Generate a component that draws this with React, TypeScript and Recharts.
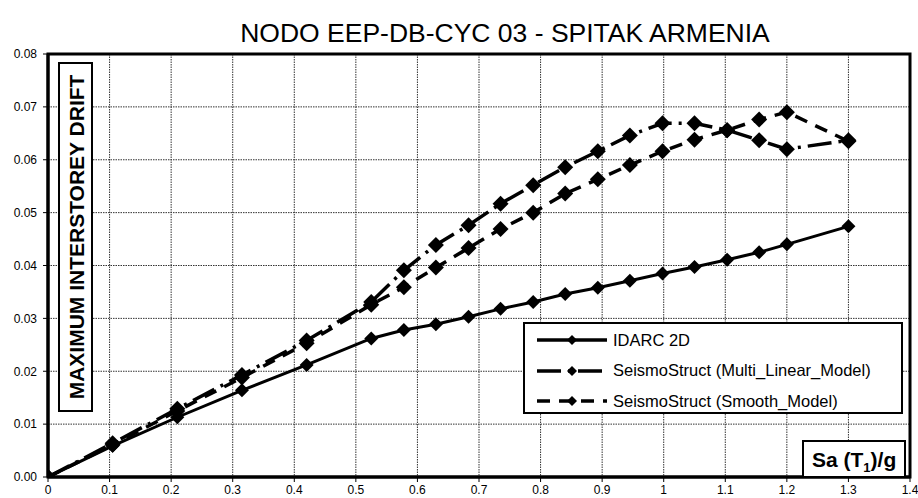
import React from "react";
import {
  LineChart, Line, XAxis, YAxis, CartesianGrid, ReferenceArea, Legend, Label,
} from "recharts";

// Sa(T1)/g steps shared by every series
const sa = [0, 0.105, 0.21, 0.315, 0.42, 0.525, 0.578, 0.63, 0.683, 0.735, 0.788, 0.84, 0.893, 0.945, 0.998, 1.05, 1.103, 1.155, 1.2, 1.3];
const idarc = [0, 0.0059, 0.0113, 0.0164, 0.0212, 0.0262, 0.0278, 0.0289, 0.0303, 0.0318, 0.0331, 0.0346, 0.0358, 0.0371, 0.0385, 0.0397, 0.0411, 0.0425, 0.044, 0.0474];
const multiLinear = [0, 0.0064, 0.0129, 0.0193, 0.0258, 0.0331, 0.0391, 0.0439, 0.0476, 0.0517, 0.0552, 0.0586, 0.0616, 0.0646, 0.0669, 0.0669, 0.0656, 0.0637, 0.062, 0.0637];
const smooth = [0, 0.0061, 0.0125, 0.0188, 0.0253, 0.0326, 0.0359, 0.0396, 0.0433, 0.0469, 0.05, 0.0536, 0.0563, 0.059, 0.0616, 0.0638, 0.0656, 0.0676, 0.069, 0.0635];

const xTicks = [0, 0.1, 0.2, 0.3, 0.4, 0.5, 0.6, 0.7, 0.8, 0.9, 1, 1.1, 1.2, 1.3, 1.4];
const yTicks = [0, 0.01, 0.02, 0.03, 0.04, 0.05, 0.06, 0.07, 0.08];

const seriesNames = ["IDARC 2D", "SeismoStruct (Multi_Linear_Model)", "SeismoStruct (Smooth_Model)"];

const title = "NODO EEP-DB-CYC 03 - SPITAK ARMENIA";
const yTitle = "MAXIMUM INTERSTOREY DRIFT";

const rows = sa.map((x, i) => ({ x, idarc: idarc[i], multi: multiLinear[i], smooth: smooth[i] }));

const FONT = "'Liberation Sans', Arial, sans-serif";
const DASH_MULTI = "24 7 3 7";
const DASH_SMOOTH = "13 9";
const dashes = [undefined, DASH_MULTI, DASH_SMOOTH];

function diamond(r: number) {
  // eslint-disable-next-line @typescript-eslint/no-explicit-any
  return (p: any) => {
    const { cx, cy, index } = p;
    if (cx == null || cy == null) return <g key={index} />;
    return (
      <path key={index} fill="#000"
        d={`M${cx},${cy - r}L${cx + r},${cy}L${cx},${cy + r}L${cx - r},${cy}Z`} />
    );
  };
}

// eslint-disable-next-line @typescript-eslint/no-explicit-any
function YTitleBox(props: any) {
  const vb = props.viewBox;
  const x = vb.x + vb.width + 11;
  const y = vb.y + 9;
  const w = 33, h = 348;
  return (
    <g>
      <rect x={x} y={y} width={w} height={h} fill="#fff" stroke="#000" strokeWidth={2} />
      <text x={0} y={0} transform={`translate(${x + w / 2 + 1},${y + h / 2}) rotate(-90)`}
        textAnchor="middle" dominantBaseline="central"
        fontFamily={FONT} fontWeight="bold" fontSize={21} fill="#000">
        {yTitle}
      </text>
    </g>
  );
}

// eslint-disable-next-line @typescript-eslint/no-explicit-any
function XTitleBox(props: any) {
  const vb = props.viewBox;
  const w = 102, h = 36;
  const x = vb.x + vb.width - w - 5;
  const y = vb.y - h;
  return (
    <g>
      <rect x={x} y={y} width={w} height={h} fill="#fff" stroke="#000" strokeWidth={2} />
      <text x={x + 9} y={y + 26} fontFamily={FONT} fontWeight="bold" fontSize={21} fill="#000">
        Sa (T<tspan fontSize={13} dy={5}>1</tspan><tspan dy={-5}>)/g</tspan>
      </text>
    </g>
  );
}

function LegendBox() {
  return (
    <div style={{
      width: 380, height: 92, boxSizing: "border-box", border: "2px solid #000",
      background: "#fff", fontFamily: FONT, fontSize: 16.5, color: "#000", paddingTop: 1,
    }}>
      {seriesNames.map((name, i) => (
        <div key={name} style={{ display: "flex", alignItems: "center", height: 30.5 }}>
          <svg width={88} height={20} style={{ flex: "none" }}>
            <line x1={12} x2={82} y1={10} y2={10} stroke="#000" strokeWidth={3.5}
              strokeDasharray={dashes[i]} />
            <path d="M47,5L52,10L47,15L42,10Z" fill="#000" />
          </svg>
          <span style={{ whiteSpace: "nowrap" }}>{name}</span>
        </div>
      ))}
    </div>
  );
}

export default function App() {
  return (
    <div style={{ position: "absolute", left: 0, top: 0, width: 918, height: 498, overflow: "hidden", background: "#fff" }}>
      <div style={{
        position: "absolute", left: 505, top: 18, transform: "translateX(-50%)",
        whiteSpace: "nowrap", fontFamily: FONT, fontSize: 26.5, color: "#000", lineHeight: "30px",
      }}>
        {title}
      </div>
      <LineChart width={918} height={498} data={rows}
        margin={{ top: 54, right: 8, left: 0, bottom: 0 }}>
        <CartesianGrid stroke="#333" strokeDasharray="1.5 1" strokeWidth={1} />
        <XAxis dataKey="x" type="number" domain={[0, 1.4]} ticks={xTicks} height={21}
          interval={0} allowDataOverflow
          tick={{ fontSize: 12, fill: "#000", fontFamily: FONT }}
          tickSize={5} tickMargin={3}
          axisLine={{ stroke: "#000", strokeWidth: 3 }} tickLine={{ stroke: "#000" }}
          tickFormatter={(v: number) => String(v)}>
          <Label content={XTitleBox} />
        </XAxis>
        <YAxis type="number" domain={[0, 0.08]} ticks={yTicks} width={48}
          interval={0} allowDataOverflow
          tick={{ fontSize: 12, fill: "#000", fontFamily: FONT }}
          tickSize={5} tickMargin={6}
          axisLine={{ stroke: "#000", strokeWidth: 3 }} tickLine={{ stroke: "#000" }}
          tickFormatter={(v: number) => v.toFixed(2)}>
          <Label content={YTitleBox} />
        </YAxis>
        <Line type="linear" dataKey="idarc" name={seriesNames[0]} stroke="#000" strokeWidth={3}
          dot={diamond(7)} activeDot={false} isAnimationActive={false} />
        <Line type="linear" dataKey="multi" name={seriesNames[1]} stroke="#000" strokeWidth={3.5}
          strokeDasharray={DASH_MULTI} dot={diamond(8)} activeDot={false} isAnimationActive={false} />
        <Line type="linear" dataKey="smooth" name={seriesNames[2]} stroke="#000" strokeWidth={3.5}
          strokeDasharray={DASH_SMOOTH} dot={diamond(8)} activeDot={false} isAnimationActive={false} />
        <ReferenceArea x1={0} x2={1.4} y1={0} y2={0.08} fill="none" stroke="#000" strokeWidth={3}
          ifOverflow="visible" />
        <Legend layout="vertical" align="center" verticalAlign="middle" content={LegendBox}
          wrapperStyle={{ position: "absolute", left: 523, top: 322, width: 380, height: 92 }} />
      </LineChart>
    </div>
  );
}
